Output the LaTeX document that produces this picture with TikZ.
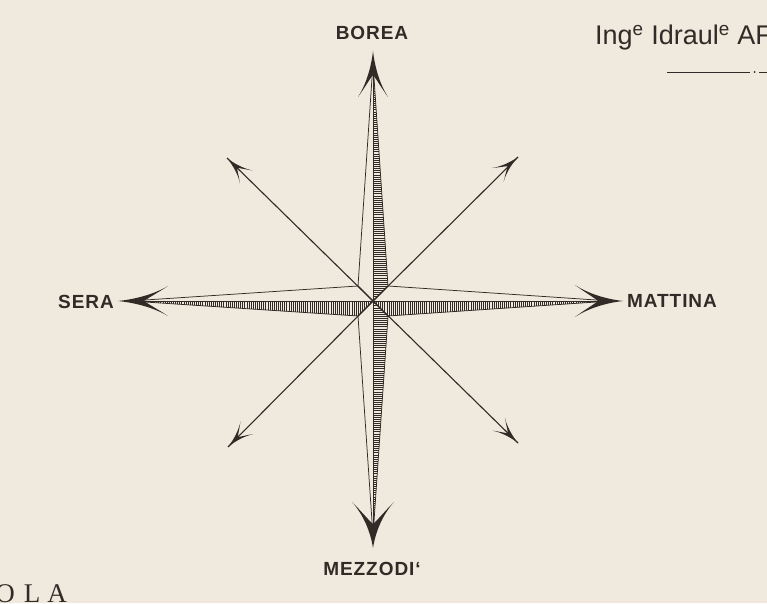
\documentclass[tikz,border=0pt]{standalone}
\usepackage{fontspec}
\setmainfont{Liberation Sans}
\newfontfamily\oldserif{Liberation Serif}
\definecolor{paper}{RGB}{239,234,221}
\definecolor{ink}{RGB}{48,43,38}
\newcommand\arrowbarb[5]{%
  \fill[ink,shift={(#1,#2)},rotate=#3]
    (0,0) .. controls (-0.35*#4,-0.12*#5) and (-0.72*#4,-0.45*#5) .. (-#4,-#5)
    .. controls (-0.82*#4,-0.60*#5) and (-0.6*#4,-0.2*#5) .. (-0.52*#4,0)
    .. controls (-0.6*#4,0.2*#5) and (-0.82*#4,0.60*#5) .. (-#4,#5)
    .. controls (-0.72*#4,0.45*#5) and (-0.35*#4,0.12*#5) .. (0,0) -- cycle;}
\tikzset{
  lab/.style={font=\fontsize{19}{19}\selectfont\bfseries\addfontfeature{LetterSpace=5}, text=ink, inner sep=0pt},
  armline/.style={draw=ink, line width=0.75pt, line join=round},
  hatchline/.style={ink, line width=0.6pt},
  diag/.style={ink, line width=1.1pt},
  oldtxt/.style={anchor=base, inner sep=0pt, text=ink, font=\oldserif\fontsize{27}{27}\selectfont}
}
\begin{document}
\begin{tikzpicture}[x=1pt,y=1pt]
\useasboundingbox (0,0) rectangle (767,603);
\fill[paper] (0,0) rectangle (767,603);
\clip (0,0) rectangle (767,603);
% key points
\coordinate (C) at (373,302);
\coordinate (N) at (373,552);
\coordinate (S) at (373,55);
\coordinate (W) at (118,302);
\coordinate (E) at (623,302);
\coordinate (Na) at (373,540);
\coordinate (Sa) at (373,67);
\coordinate (Wa) at (130,302);
\coordinate (Ea) at (611,302);
\coordinate (NW) at (227,445);
\coordinate (NE) at (518,446);
\coordinate (SW) at (228,156);
\coordinate (SE) at (518,160);
\coordinate (kNW) at (358,317);
\coordinate (kNE) at (388,317);
\coordinate (kSW) at (358,287);
\coordinate (kSE) at (388,287);
% hatching
\begin{scope}
  \clip (C) -- (kNE) -- (Na) -- cycle;
  \foreach \y in {300,302.1,...,545} \draw[hatchline] (355,\y) -- (392,\y);
\end{scope}
\begin{scope}
  \clip (C) -- (kSE) -- (Sa) -- cycle;
  \foreach \y in {60,62.1,...,305} \draw[hatchline] (355,\y) -- (392,\y);
\end{scope}
\begin{scope}
  \clip (C) -- (kSW) -- (Wa) -- cycle;
  \foreach \x in {125,127.1,...,376} \draw[hatchline] (\x,283) -- (\x,306);
\end{scope}
\begin{scope}
  \clip (C) -- (kSE) -- (Ea) -- cycle;
  \foreach \x in {370,372.1,...,615} \draw[hatchline] (\x,283) -- (\x,306);
\end{scope}
% arm outlines
\draw[armline] (Na) -- (kNW) -- (C) -- (kNE) -- cycle;
\draw[armline] (Na) -- (C);
\draw[armline] (Sa) -- (kSW) -- (C) -- (kSE) -- cycle;
\draw[armline] (Sa) -- (C);
\draw[armline] (Wa) -- (kNW) -- (C) -- (kSW) -- cycle;
\draw[armline] (Wa) -- (C);
\draw[armline] (Ea) -- (kNE) -- (C) -- (kSE) -- cycle;
\draw[armline] (Ea) -- (C);
% diagonals
\draw[diag] (C) -- (NW);
\draw[diag] (C) -- (NE);
\draw[diag] (C) -- (SW);
\draw[diag] (C) -- (SE);
% arrow heads
\arrowbarb{373}{552}{90}{46}{15}
\arrowbarb{373}{55}{-90}{46}{21}
\arrowbarb{118}{302}{180}{50}{15}
\arrowbarb{623}{302}{0}{48}{16}
\arrowbarb{227}{445}{135.6}{27}{9}
\arrowbarb{518}{446}{41.3}{27}{9}
\arrowbarb{228}{156}{-134.5}{27}{9}
\arrowbarb{518}{160}{-44.2}{27}{9}
% labels
\node[lab] (borea) at (372,570) {BOREA};
\node[lab] (sera) at (86,301) {SERA};
\node[lab] (mattina) at (672,302) {MATTINA};
\node[lab] (mezzodi) at (372,34) {MEZZODI‘};
% title fragment top right
\node[anchor=base west, inner sep=0pt, text=ink, font=\fontsize{27}{27}\selectfont] (ing) at (595,558)
  {Ing\textsuperscript{e} Idraul\textsuperscript{e} AF};
\coordinate (u1) at (667,531);
\coordinate (u2) at (750,531);
\coordinate (u3) at (759,531);
\coordinate (u4) at (767,531);
\draw[ink, line width=0.9pt] (u1) -- (u2);
\fill[ink] (754.5,531) circle (1pt);
\draw[ink, line width=0.9pt] (u3) -- (u4);
% bottom-left fragment
\node[oldtxt] (o) at (5,1) {O};
\node[oldtxt] (l) at (32,1) {L};
\node[oldtxt] (a) at (57,1) {A};
\end{tikzpicture}
\end{document}
